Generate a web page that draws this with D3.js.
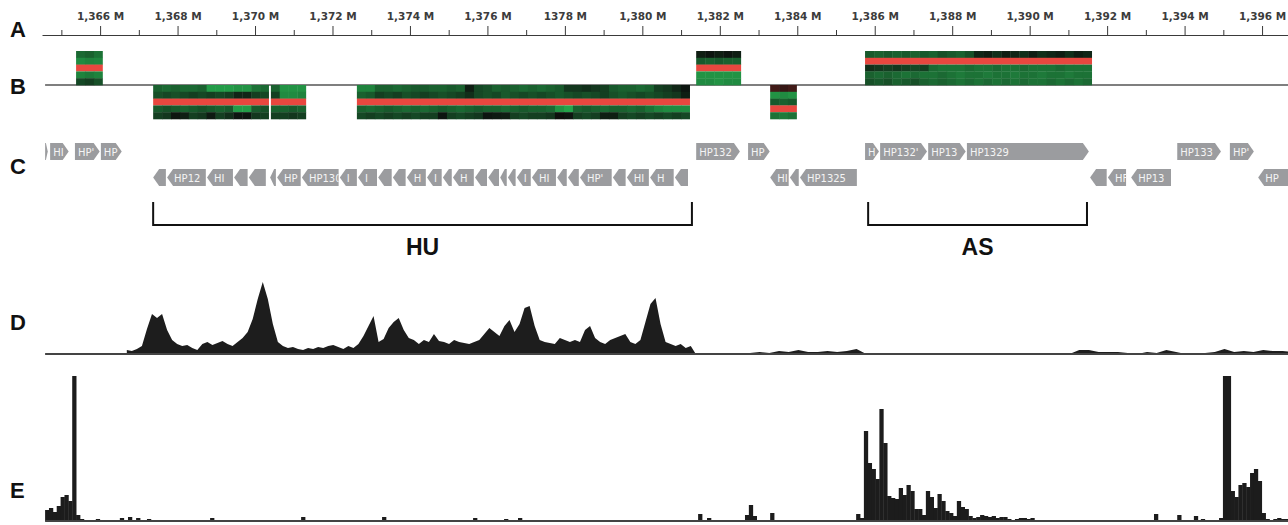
<!DOCTYPE html>
<html>
<head>
<meta charset="utf-8">
<script src="https://cdn.jsdelivr.net/npm/d3@7"></script>
<style>
  body { margin: 0; background: #fff; }
  svg { display: block; }
</style>
</head>
<body>
<div id="chart"></div>
<script>
// ---- axis (kb position, written as "M" in the figure) ----
var majorTicks = [1366, 1368, 1370, 1372, 1374, 1376, 1378, 1380, 1382, 1384, 1386, 1388, 1390, 1392, 1394, 1396];
var majorLabels = ["1,366 M", "1,368 M", "1,370 M", "1,372 M", "1,374 M", "1,376 M", "1378 M", "1,380 M",
                   "1,382 M", "1,384 M", "1,386 M", "1,388 M", "1,390 M", "1,392 M", "1,394 M", "1,396 M"];
var minorTicks = [1365, 1367, 1369, 1371, 1373, 1375, 1377, 1379, 1381, 1383, 1385, 1387, 1389, 1391, 1393, 1395];

// ---- B: expression heatmap blocks (null row = reference row, red) ----
var hmStart = [1365.38, 1381.39, 1385.75, 1367.37, 1370.41, 1372.63, 1383.30];
var hmEnd   = [1366.07, 1382.55, 1391.61, 1370.36, 1371.32, 1381.23, 1383.99];
var hmSide  = [1, 1, 1, -1, -1, -1, -1];   // 1 = above line, -1 = below

var box1 = [[0.55,0.5,0.6],[0.75,0.7,0.72],null,[0.7,0.65,0.7],[0.35,0.3,0.4]];
var box2 = [[0.1,0.05,0.1,0.05,0.1],[0.45,0.5,0.45,0.5,0.5],null,[0.8,0.8,0.8,0.8,0.8],[0.75,0.75,0.8,0.75,0.75]];
var box3 = [
  [0.45,0.5,0.45,0.5,0.45,0.5,0.45,0.5,0.4,0.45,0.5,0.4,0.15,0.1,0.2,0.1,0.15,0.2,0.1,0.2,0.15,0.1,0.2,0.1,0.15],
  null,
  [0.2,0.25,0.3,0.25,0.3,0.35,0.3,0.55,0.6,0.6,0.6,0.55,0.6,0.6,0.55,0.6,0.6,0.55,0.6,0.6,0.6,0.55,0.6,0.6,0.6],
  [0.5,0.55,0.5,0.55,0.6,0.55,0.6,0.6,0.55,0.6,0.65,0.6,0.6,0.65,0.6,0.6,0.65,0.6,0.6,0.65,0.6,0.6,0.65,0.6,0.6],
  [0.4,0.45,0.4,0.5,0.45,0.4,0.5,0.55,0.5,0.55,0.6,0.55,0.6,0.55,0.6,0.55,0.6,0.55,0.6,0.6,0.55,0.6,0.55,0.6,0.55]
];
var box4 = [
  [0.5,0.55,0.5,0.55,0.55,0.5,0.85,0.85,0.85,0.8,0.8,0.6,0.55],
  [0.4,0.35,0.4,0.35,0.3,0.35,0.3,0.35,0.3,0.15,0.15,0.3,0.35],
  null,
  [0.45,0.4,0.45,0.5,0.45,0.4,0.45,0.5,0.45,0.85,0.85,0.45,0.4],
  [0.3,0.25,0.05,0.1,0.3,0.25,0.08,0.3,0.2,0.05,0.05,0.25,0.3]
];
var box5 = [[0.5,0.8,0.8,0.8],[0.3,0.75,0.75,0.7],null,[0.5,0.5,0.45,0.5],[0.3,0.3,0.25,0.3]];
var box6 = [
  [0.7,0.7,0.5,0.5,0.55,0.5,0.45,0.45,0.5,0.5,0.45,0.5,0.1,0.35,0.4,0.5,0.45,0.5,0.55,0.5,0.55,0.5,0.45,0.25,0.25,0.2,0.25,0.3,0.45,0.5,0.5,0.55,0.5,0.3,0.25,0.15,0.05],
  [0.5,0.45,0.3,0.35,0.3,0.4,0.35,0.3,0.35,0.4,0.35,0.3,0.2,0.35,0.4,0.35,0.45,0.4,0.35,0.4,0.35,0.4,0.45,0.4,0.35,0.4,0.35,0.3,0.4,0.45,0.4,0.35,0.4,0.35,0.3,0.25,0.1],
  null,
  [0.5,0.55,0.5,0.45,0.5,0.55,0.5,0.55,0.5,0.45,0.5,0.55,0.5,0.45,0.5,0.5,0.55,0.5,0.45,0.5,0.5,0.55,0.8,0.9,0.5,0.45,0.5,0.55,0.5,0.5,0.55,0.5,0.6,0.7,0.75,0.75,0.75],
  [0.35,0.3,0.35,0.3,0.35,0.3,0.35,0.3,0.3,0.05,0.3,0.35,0.3,0.25,0.05,0.08,0.1,0.3,0.35,0.3,0.3,0.25,0.02,0.05,0.3,0.35,0.3,0.1,0.1,0.3,0.35,0.3,0.35,0.3,0.35,0.3,0.35]
];
var box7 = [[-0.25,-0.2,-0.25],[0.8,0.75,0.8],[0.45,0.5,0.45],null,[0.6,0.65,0.6]];
var hmCells = [box1, box2, box3, box4, box5, box6, box7];

// ---- C: genes ----
var fwdStart = [1364.58, 1364.71, 1365.35, 1366.02, 1381.39, 1382.73, 1385.75, 1386.14, 1387.38, 1388.38, 1393.81, 1395.17];
var fwdEnd   = [1364.68, 1365.22, 1366.02, 1366.59, 1382.55, 1383.32, 1386.14, 1387.38, 1388.38, 1391.56, 1394.97, 1395.82];
var fwdLabel = ["", "HI", "HP'", "HP", "HP132", "HP", "H", "HP132'", "HP13", "HP1329", "HP133", "HP'"];

var revStart = [1367.37, 1367.73, 1368.76, 1369.46, 1369.84, 1370.39, 1370.57, 1371.21, 1372.19, 1372.66, 1373.18, 1373.56,
                1373.92, 1374.44, 1374.85, 1375.11, 1375.68, 1376.02, 1376.33, 1376.53, 1376.76, 1377.15, 1377.80, 1378.08,
                1378.39, 1379.24, 1379.60, 1380.20, 1380.84, 1383.30, 1383.81, 1384.07, 1391.56, 1392.02, 1392.62, 1395.90];
var revEnd   = [1367.73, 1368.76, 1369.46, 1369.84, 1370.31, 1370.57, 1371.21, 1372.19, 1372.66, 1373.18, 1373.56, 1373.92,
                1374.44, 1374.85, 1375.11, 1375.68, 1376.02, 1376.33, 1376.53, 1376.76, 1377.15, 1377.80, 1378.08, 1378.39,
                1379.24, 1379.60, 1380.20, 1380.84, 1381.21, 1383.81, 1384.07, 1385.57, 1392.02, 1392.52, 1393.68, 1396.72];
var revLabel = ["", "HP12", "HI", "", "", "", "HP", "HP130", "I", "I", "", "",
                "H", "I", "", "H", "", "", "", "", "I", "HI", "", "",
                "HP'", "", "HI", "H", "", "HI", "", "HP1325", "", "HF", "HP13", "HP"];

var bracketStart = [1367.37, 1385.83];
var bracketEnd   = [1381.28, 1391.48];
var bracketLabel = ["HU", "AS"];

// ---- D: coverage ----
var dStart = 1366.69, dStep = 0.13;
var dVals = [4,3,5,8,25,40,36,40,24,14,10,8,9,6,4,10,12,9,11,13,10,8,12,16,22,35,55,72,55,30,
             12,8,6,7,5,4,6,5,7,6,8,9,7,5,8,6,10,18,28,38,12,15,26,32,36,24,16,14,10,14,
             12,20,13,12,10,14,12,11,10,12,14,20,26,22,18,28,34,22,30,46,48,28,14,12,11,10,16,14,12,14,
             12,24,28,16,12,10,14,16,18,20,12,10,14,32,50,56,30,12,10,8,10,6,8,0];
var dTailStart = 1381.28, dTailStep = 0.25;
var dTail = [0,1,0,0,0,0,1,2,1,3,2,4,2,2,3,2,3,5,
             0,0,0,0,0,0,0,0,0,0,0,0,0,0,0,0,0,0,0,0,0,0,
             4,4,2,2,2,1,0,2,1,4,2,0,1,1,2,5,2,3,2,4,3,3,2];

// ---- E: coverage ----
var eStep = 0.1;
var eLeftStart = 1364.58;
var eLeft = [11,13,9,15,24,26,20,145,6,2];
var eMidStart = 1385.52;
var eMid = [7,3,90,58,52,42,112,78,25,23,22,33,26,36,30,12,12,6,30,24,13,27,20,10,8,5,20,14,12,5,
            3,4,6,5,4,5,3,4,4,2,1,2,3,3,2,3,1];
var eRightStart = 1394.89;
var eRight = [3,145,145,30,24,36,38,34,48,52,40,8,2,1,2,3,2,2];
var eBumpPos  = [1365.89, 1366.51, 1366.72, 1366.93, 1367.21, 1368.84, 1371.19, 1372.53, 1373.28, 1375.63, 1376.43, 1376.79,
                 1381.44, 1381.67, 1382.26, 1382.65, 1382.75, 1382.85, 1383.30, 1384.98, 1393.21, 1393.81, 1394.24, 1394.42];
var eBumpVals = [2,3,4,3,2,3,4,1,4,3,2,3,7,3,1,6,16,5,8,1,7,6,5,2];

var W = 1288, H = 525;
var trackStart = 1364.58, trackEnd = 1396.67;

var x = d3.scaleLinear().domain([1364.5, 1396.67]).range([42, 1288]);

var svg = d3.select("#chart").append("svg").attr("width", W).attr("height", H);

// axis
var axisY = 35;
var gMinor = svg.append("g")
  .attr("transform", "translate(0," + axisY + ")")
  .call(d3.axisTop(x).tickValues(minorTicks).tickSize(5).tickFormat(""));
gMinor.select(".domain").remove();
gMinor.selectAll("line").attr("stroke", "#3a3a3a");

var gAxis = svg.append("g")
  .attr("transform", "translate(0," + axisY + ")")
  .call(d3.axisTop(x).tickValues(majorTicks).tickSize(9).tickSizeOuter(0).tickPadding(6)
    .tickFormat(function (d, i) { return majorLabels[i]; }));
gAxis.attr("font-family", "DejaVu Sans").attr("font-size", 10.5).attr("font-weight", "bold");
gAxis.selectAll("line, path").attr("stroke", "#3a3a3a");
gAxis.selectAll("text").attr("fill", "#3c3c3c");

// panel letters
var letters = ["A", "B", "C", "D", "E"];
var letterY = [37, 94, 174, 330, 498];
svg.selectAll("text.panel")
  .data(letters)
  .enter()
  .append("text")
  .attr("class", "panel")
  .attr("x", 10)
  .attr("y", function (d, i) { return letterY[i]; })
  .attr("font-family", "Liberation Sans, Arial, sans-serif")
  .attr("font-weight", "bold")
  .attr("font-size", 22)
  .attr("fill", "#111")
  .text(function (d) { return d; });

// B: heatmap track
var bBase = 85, bH = 34;
var heat = d3.scaleLinear().domain([-1, 0, 1]).range(["#e0443c", "#0c0d0c", "#27b552"]);
var redRow = "#e8473f";

svg.append("line")
  .attr("x1", x(trackStart)).attr("x2", x(trackEnd))
  .attr("y1", bBase).attr("y2", bBase)
  .attr("stroke", "#555").attr("stroke-width", 1.5);

hmCells.forEach(function (rows, k) {
  var y0 = hmSide[k] > 0 ? bBase - bH : bBase;
  var rowBand = d3.scaleBand().domain(d3.range(rows.length)).range([y0, y0 + bH]);
  var ncol = d3.max(rows, function (r) { return r ? r.length : 0; });
  var colBand = d3.scaleBand().domain(d3.range(ncol)).range([x(hmStart[k]), x(hmEnd[k])]);
  var g = svg.append("g");
  rows.forEach(function (r, ri) {
    if (!r) {
      g.append("rect")
        .attr("x", x(hmStart[k])).attr("y", rowBand(ri))
        .attr("width", x(hmEnd[k]) - x(hmStart[k])).attr("height", rowBand.bandwidth())
        .attr("fill", redRow);
      return;
    }
    g.selectAll(null)
      .data(r)
      .enter()
      .append("rect")
      .attr("x", function (d, ci) { return colBand(ci); })
      .attr("y", rowBand(ri))
      .attr("width", function (d, ci) { return ci === r.length - 1 ? colBand.bandwidth() : colBand.bandwidth() + 0.4; })
      .attr("height", rowBand.bandwidth() + 0.3)
      .attr("fill", function (d) { return heat(d); });
  });
});

// C: genes
var fwdY = 143, revY = 169, geneH = 17;
function genePath(x0, x1, y0, h, dir) {
  var w = x1 - x0, tip = Math.min(6, w * 0.7), ym = y0 + h / 2;
  if (dir > 0) {
    return "M" + x0 + "," + y0 + "H" + (x1 - tip) + "L" + x1 + "," + ym +
      "L" + (x1 - tip) + "," + (y0 + h) + "H" + x0 + "Z";
  }
  return "M" + x1 + "," + y0 + "H" + (x0 + tip) + "L" + x0 + "," + ym +
    "L" + (x0 + tip) + "," + (y0 + h) + "H" + x1 + "Z";
}

var genes = [];
fwdStart.forEach(function (s, i) { genes.push({ s: s, e: fwdEnd[i], label: fwdLabel[i], dir: 1 }); });
revStart.forEach(function (s, i) { genes.push({ s: s, e: revEnd[i], label: revLabel[i], dir: -1 }); });

var defs = svg.append("defs");
var gGenes = svg.append("g");
genes.forEach(function (g, i) {
  var x0 = x(g.s), x1 = x(g.e) - 1.2;
  var y0 = g.dir > 0 ? fwdY : revY;
  var p = genePath(x0, x1, y0, geneH, g.dir);
  defs.append("clipPath").attr("id", "gc" + i).append("path").attr("d", p);
  gGenes.append("path").attr("d", p).attr("fill", "#9b9c9f");
  if (g.label) {
    var tip = Math.min(6, (x1 - x0) * 0.7);
    gGenes.append("text")
      .attr("clip-path", "url(#gc" + i + ")")
      .attr("x", g.dir > 0 ? x0 + 3 : x0 + tip + 1)
      .attr("y", y0 + geneH / 2 + 4)
      .attr("font-family", "DejaVu Sans")
      .attr("font-size", 10)
      .attr("fill", "#f4f4f4")
      .text(g.label);
  }
});

// brackets HU / AS
var brTop = 202, brBot = 225;
bracketLabel.forEach(function (lab, i) {
  var a = x(bracketStart[i]), b = x(bracketEnd[i]);
  svg.append("path")
    .attr("d", "M" + a + "," + brTop + "V" + brBot + "H" + b + "V" + brTop)
    .attr("fill", "none").attr("stroke", "#111").attr("stroke-width", 2);
  svg.append("text")
    .attr("x", (a + b) / 2).attr("y", 255)
    .attr("text-anchor", "middle")
    .attr("font-family", "Liberation Sans, Arial, sans-serif")
    .attr("font-weight", "bold")
    .attr("font-size", 23)
    .attr("fill", "#111")
    .text(lab);
});

// D: coverage profile
var yD = d3.scaleLinear().domain([0, 72]).range([354, 282]);
var dPts = dVals.map(function (v, i) { return [dStart + i * dStep, v]; })
  .concat(dTail.map(function (v, i) { return [dTailStart + i * dTailStep, v]; }));
svg.append("path")
  .datum(dPts)
  .attr("d", d3.area().x(function (d) { return x(d[0]); }).y0(yD(0)).y1(function (d) { return yD(d[1]); }))
  .attr("fill", "#1d1d1d");
svg.append("line")
  .attr("x1", x(trackStart)).attr("x2", x(trackEnd))
  .attr("y1", yD(0)).attr("y2", yD(0))
  .attr("stroke", "#444").attr("stroke-width", 2);

// E: coverage bars
var yE = d3.scaleLinear().domain([0, 145]).range([521, 376]);
function drawBars(starts, vals) {
  svg.append("g")
    .selectAll("rect")
    .data(vals)
    .enter()
    .append("rect")
    .attr("x", function (d, i) { return x(starts[i]); })
    .attr("width", function (d, i) { return x(starts[i] + eStep) - x(starts[i]) + 0.4; })
    .attr("y", function (d) { return yE(d); })
    .attr("height", function (d) { return yE(0) - yE(d); })
    .attr("fill", "#1c1c1c");
}
drawBars(eLeft.map(function (v, i) { return eLeftStart + i * eStep; }), eLeft);
drawBars(eMid.map(function (v, i) { return eMidStart + i * eStep; }), eMid);
drawBars(eRight.map(function (v, i) { return eRightStart + i * eStep; }), eRight);
drawBars(eBumpPos, eBumpVals);
svg.append("line")
  .attr("x1", x(trackStart)).attr("x2", x(trackEnd))
  .attr("y1", yE(0)).attr("y2", yE(0))
  .attr("stroke", "#444").attr("stroke-width", 2);
</script>
</body>
</html>
